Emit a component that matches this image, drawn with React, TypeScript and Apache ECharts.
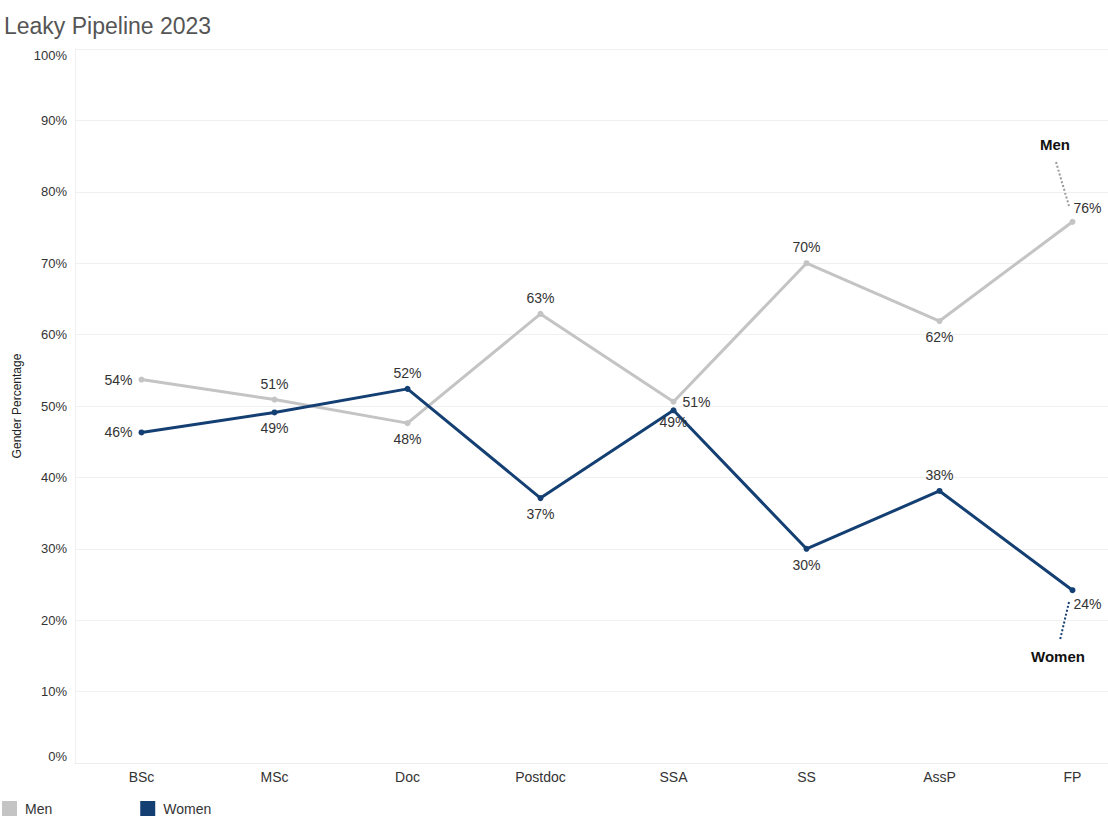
import React, { useEffect, useRef } from "react";
import * as echarts from "echarts";

const categories = ["BSc", "MSc", "Doc", "Postdoc", "SSA", "SS", "AssP", "FP"];
const menValues = [53.7, 50.9, 47.6, 62.9, 50.6, 70.0, 61.9, 75.8];
const womenValues = [46.3, 49.1, 52.4, 37.1, 49.4, 30.0, 38.1, 24.2];
const menLabelPos = ["left", "top", "bottom", "top", "right", "top", "bottom", "right"];
const womenLabelPos = ["left", "bottom", "top", "bottom", "bottom", "bottom", "top", "right"];

const MEN_COLOR = "#c4c4c4";
const WOMEN_COLOR = "#143f73";
const FONT = "Liberation Sans, Arial, sans-serif";

export default function App() {
  const ref = useRef<HTMLDivElement>(null);
  useEffect(() => {
    if (!ref.current) return;
    const chart = echarts.init(ref.current, null, { renderer: "svg" });
    const mkData = (vals: number[], pos: string[], isMen: boolean) =>
      vals.map((v, i) => {
        const p = pos[i];
        const label: any = { position: p };
        if (i === 7) {
          label.position = "right";
          label.offset = isMen ? [-8, -14] : [-8, 14];
        }
        if (!isMen && i === 4) label.offset = [0, -4];
        return { value: v, label };
      });
    const labelCfg = {
      show: true,
      formatter: (p: any) => Math.round(p.value) + "%",
      color: "#333",
      fontSize: 14,
      fontFamily: FONT,
      distance: 6,
    };
    const option: any = {
      animation: false,
      textStyle: { fontFamily: FONT },
      title: {
        text: "Leaky Pipeline 2023",
        left: -1,
        top: 9,
        textStyle: { fontFamily: FONT, fontSize: 23, fontWeight: "normal", color: "#555" },
      },
      grid: { left: 75, top: 49, bottom: 75, width: 1064, containLabel: false },
      legend: {
        left: 2,
        bottom: 22,
        padding: 0,
        icon: "rect",
        itemWidth: 15,
        itemHeight: 15,
        itemGap: 88,
        textStyle: { fontFamily: FONT, fontSize: 14, color: "#333", padding: [0, 0, 0, 3] },
        data: ["Men", "Women"],
      },
      xAxis: {
        type: "category",
        data: categories,
        boundaryGap: true,
        axisLine: { show: true, lineStyle: { color: "#eee" } },
        axisTick: { show: false },
        axisLabel: { color: "#333", fontSize: 14, fontFamily: FONT, margin: 7 },
        splitLine: { show: false },
      },
      yAxis: {
        type: "value",
        min: 0,
        max: 100,
        interval: 10,
        name: "Gender Percentage",
        nameLocation: "middle",
        nameGap: 52,
        nameTextStyle: { color: "#222", fontSize: 12, fontFamily: FONT },
        axisLine: { show: true, lineStyle: { color: "#f0f0f0" } },
        axisTick: { show: false },
        axisLabel: {
          formatter: "{value}%",
          color: "#333",
          fontSize: 13,
          fontFamily: FONT,
          margin: 8,
          verticalAlignMinLabel: "bottom",
          verticalAlignMaxLabel: "top",
        },
        splitLine: { lineStyle: { color: "#f0f0f0" } },
      },
      series: [
        {
          name: "Men",
          type: "line",
          data: mkData(menValues, menLabelPos, true),
          color: MEN_COLOR,
          lineStyle: { width: 3, color: MEN_COLOR },
          itemStyle: { color: MEN_COLOR },
          symbol: "circle",
          symbolSize: 6,
          label: labelCfg,
          z: 2,
        },
        {
          name: "Women",
          type: "line",
          data: mkData(womenValues, womenLabelPos, false),
          color: WOMEN_COLOR,
          lineStyle: { width: 3, color: WOMEN_COLOR },
          itemStyle: { color: WOMEN_COLOR },
          symbol: "circle",
          symbolSize: 6,
          label: labelCfg,
          z: 3,
        },
      ],
      graphic: [
        {
          type: "text",
          left: 1040,
          top: 137,
          style: { text: "Men", font: "bold 15px " + FONT, fill: "#111" },
        },
        {
          type: "line",
          shape: { x1: 1056, y1: 162, x2: 1069, y2: 206 },
          style: { stroke: "#999", lineWidth: 2, lineDash: [2, 2] },
        },
        {
          type: "text",
          left: 1031,
          top: 649,
          style: { text: "Women", font: "bold 15px " + FONT, fill: "#111" },
        },
        {
          type: "line",
          shape: { x1: 1069, y1: 602, x2: 1060, y2: 640 },
          style: { stroke: WOMEN_COLOR, lineWidth: 2, lineDash: [2, 2] },
        },
      ],
    };
    chart.setOption(option);
    return () => chart.dispose();
  }, []);
  return (
    <div
      style={{
        position: "fixed",
        left: 0,
        top: 0,
        width: 1108,
        height: 838,
        overflow: "hidden",
        background: "#fff",
      }}
    >
      <div ref={ref} style={{ width: 1140, height: 838 }} />
    </div>
  );
}
